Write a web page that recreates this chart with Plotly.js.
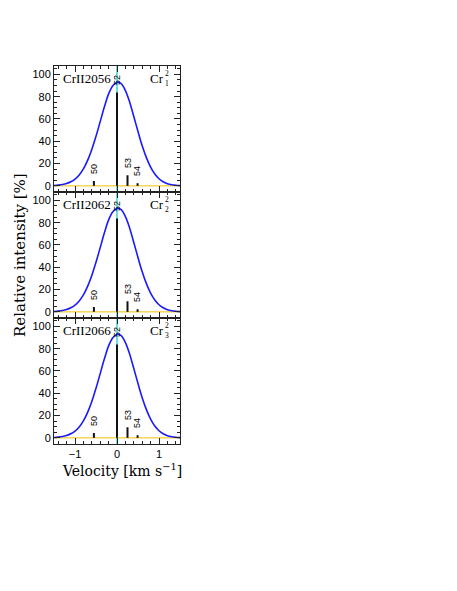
<!DOCTYPE html>
<html><head><meta charset="utf-8">
<script src="https://cdn.plot.ly/plotly-3.0.1.min.js"></script>
<style>html,body{margin:0;padding:0;background:#fff}#chart{width:457px;height:591px}</style>
</head><body><div id="chart"></div>
<script>
// profile (same in all three panels)
const velocity = [-1.6,-1.5,-1.4,-1.3,-1.2,-1.1,-1.0,-0.9,-0.8,-0.7,-0.6,-0.5,-0.4,-0.3,-0.2,-0.1,0,0.1,0.2,0.3,0.4,0.5,0.6,0.7,0.8,0.9,1.0,1.1,1.2,1.3,1.4,1.5,1.6];
const intensity = [0.17,0.33,0.64,1.18,2.1,3.63,6.06,9.8,15.2,22.8,32.6,44.5,57.6,70.9,82.5,89.8,93.0,91.6,85.4,75.3,62.2,48.7,36.0,25.3,16.8,10.6,6.37,3.64,1.99,1.04,0.51,0.24,0.12];
// isotope components
const isotopeMass = ['50','52','53','54'];
const isotopeShift = [-0.55, 0, 0.25, 0.49];
const isotopeAbundance = [4.35, 83.8, 9.5, 2.37];
const isotopeLabelY = [15, 95, 20, 13];
// panels
const lineNames = ['CrII2056','CrII2062','CrII2066'];
const lineIndex = ['1','2','3'];
const yTicks = [0,20,40,60,80,100];
const xTicks = [-1,0,1];

const tickFont = {family:'Liberation Sans, Arial, sans-serif', size:11, color:'#000'};
const serif = 'DejaVu Serif, Liberation Serif, serif';
const serif2 = 'Liberation Serif, serif';

const traces = [];
const annotations = [];
const shapes = [];
const layout = {
  width:457, height:591,
  margin:{l:54, r:277, t:66, b:147},
  paper_bgcolor:'#fff', plot_bgcolor:'#fff',
  showlegend:false,
  annotations, shapes
};

for (let p = 0; p < 3; p++) {
  const sx = p === 0 ? '' : String(p+1);
  const xa = 'x' + sx, ya = 'y' + sx;
  const d0 = (2 - p) / 3, d1 = (3 - p) / 3;
  layout['xaxis' + sx] = {
    domain:[0,1], anchor:ya, range:[-1.5,1.5],
    tickvals:xTicks, ticktext:xTicks.map(v => v < 0 ? '\u2212' + Math.abs(v) : String(v)),
    showticklabels: p === 2, tickfont:tickFont,
    ticks:'inside', ticklen:6, tickcolor:'#222', tickwidth:1,
    showline:true, linecolor:'#222', linewidth:1, mirror:'allticks',
    showgrid:false, zeroline:false,
    minor:{dtick:0.2, tick0:0, ticks:'inside', ticklen:3, tickcolor:'#222', showgrid:false}
  };
  layout['yaxis' + sx] = {
    domain:[d0,d1], anchor:xa, range:[-5.5,107.5],
    tickvals:yTicks, tickfont:tickFont,
    ticks:'inside', ticklen:6, tickcolor:'#222', tickwidth:1,
    showline:true, linecolor:'#222', linewidth:1, mirror:'allticks',
    showgrid:false, zeroline:false,
    minor:{dtick:5, tick0:0, ticks:'inside', ticklen:3, tickcolor:'#222', showgrid:false}
  };
  // baseline
  shapes.push({type:'line', xref:xa+' domain', yref:ya, x0:0, x1:1, y0:0, y1:0,
    line:{color:'#f2c200', width:1}, layer:'below'});
  // profile
  traces.push({type:'scatter', mode:'lines', x:velocity, y:intensity, xaxis:xa, yaxis:ya,
    line:{color:'#1a1aff', width:1.6, shape:'spline'}, hoverinfo:'skip'});
  // isotope bars
  const bx = [], by = [];
  isotopeShift.forEach((s,i) => { bx.push(s, s, null); by.push(0, isotopeAbundance[i], null); });
  traces.push({type:'scatter', mode:'lines', x:bx, y:by, xaxis:xa, yaxis:ya,
    line:{color:'#111', width:2}, hoverinfo:'skip'});
  isotopeMass.forEach((m,i) => annotations.push({
    xref:xa, yref:ya, x:isotopeShift[i], y:isotopeLabelY[i], text:m, textangle:-90,
    showarrow:false, font:{family:'Liberation Sans, Arial, sans-serif', size:9, color:'#000'}
  }));
  // panel labels
  annotations.push({xref:xa+' domain', yref:ya+' domain', x:0.055, y:0.897, xanchor:'left', yanchor:'middle',
    text:lineNames[p], showarrow:false, font:{family:serif2, size:13, color:'#000'}});
  annotations.push({xref:xa+' domain', yref:ya+' domain', x:0.885, y:0.897, xanchor:'right', yanchor:'middle',
    text:'Cr', showarrow:false, font:{family:serif2, size:13, color:'#000'}});
  annotations.push({xref:xa+' domain', yref:ya+' domain', x:0.862, y:0.9, xanchor:'left', yanchor:'middle',
    text:'2<br>' + lineIndex[p], showarrow:false, font:{family:serif2, size:7.5, color:'#000'}});
}
// vertical reference line at zero velocity
shapes.push({type:'line', xref:'x', yref:'paper', x0:0, x1:0, y0:0, y1:1,
  line:{color:'#00c8c8', width:1.2}, layer:'below'});
// axis titles
annotations.push({xref:'paper', yref:'paper', x:-0.27, y:0.5, xanchor:'center', yanchor:'middle', textangle:-90,
  text:'Relative intensity [%]', showarrow:false, font:{family:serif, size:15, color:'#000'}});
annotations.push({xref:'paper', yref:'paper', x:0.54, y:-0.068, xanchor:'center', yanchor:'middle',
  text:'Velocity [km s<sup>\u22121</sup>]', showarrow:false, font:{family:serif, size:14, color:'#000'}});

Plotly.newPlot('chart', traces, layout, {displayModeBar:false, staticPlot:true});
</script></body></html>
